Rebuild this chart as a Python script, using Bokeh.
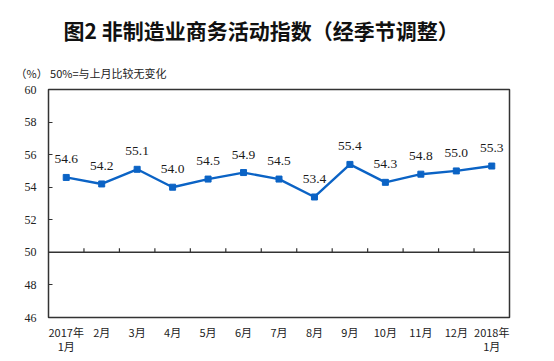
from bokeh.plotting import figure
from bokeh.models import FixedTicker, Title, LabelSet, ColumnDataSource, Span, Range1d
from bokeh.embed import file_html
from bokeh.resources import INLINE

categories = ["2017年\n1月", "2月", "3月", "4月", "5月", "6月", "7月", "8月", "9月", "10月",
              "11月", "12月", "2018年\n1月"]
values = [54.6, 54.2, 55.1, 54.0, 54.5, 54.9, 54.5, 53.4, 55.4, 54.3, 54.8, 55.0, 55.3]
y_ticks = [46, 48, 50, 52, 54, 56, 58, 60]
title_text = "图2  非制造业商务活动指数（经季节调整）"
note_text = "（%）  50%=与上月比较无变化"
baseline = 50

n = len(categories)
xs = [i + 0.5 for i in range(n)]
labels = [f"{v:.1f}" for v in values]

p = figure(frame_width=461, frame_height=228, width=538, height=357,
           x_range=Range1d(0, n), y_range=Range1d(y_ticks[0], y_ticks[-1]),
           output_backend="svg", toolbar_location=None,
           min_border_left=48, min_border_top=89, min_border_right=29, min_border_bottom=40)
p.grid.visible = False
p.outline_line_color = "#333333"
p.outline_line_width = 1.5
p.background_fill_color = "white"
p.border_fill_color = "white"

# titles
note = Title(text=note_text, align="left", offset=-33, standoff=17,
             text_font="Noto Sans CJK SC", text_font_size="11px", text_font_style="normal",
             text_color="#222222")
p.add_layout(note, "above")
p.title.text = title_text
p.title.align = "left"
p.title.offset = 15
p.title.text_font = "Noto Sans CJK SC"
p.title.text_font_size = "21px"
p.title.text_font_style = "bold"
p.title.text_color = "#111111"
p.title.standoff = 20

# y axis
p.yaxis.ticker = FixedTicker(ticks=y_ticks)
p.yaxis.major_tick_in = 4
p.yaxis.major_tick_out = 0
p.yaxis.minor_tick_line_color = None
p.yaxis.axis_line_color = None
p.yaxis.major_tick_line_color = "#333333"
p.yaxis.major_label_text_font = "Liberation Serif"
p.yaxis.major_label_text_font_size = "12px"
p.yaxis.major_label_text_color = "#222222"
p.yaxis.major_label_standoff = 12

# x axis (labels only)
p.xaxis.ticker = FixedTicker(ticks=xs)
p.xaxis.major_label_overrides = {x: c for x, c in zip(xs, categories)}
p.xaxis.major_tick_line_color = None
p.xaxis.minor_tick_line_color = None
p.xaxis.axis_line_color = None
p.xaxis.major_label_text_font = "Noto Sans CJK SC"
p.xaxis.major_label_text_font_size = "11px"
p.xaxis.major_label_text_line_height = 0.9
p.xaxis.major_label_text_color = "#222222"
p.xaxis.major_label_standoff = 0

# baseline at 50 with category boundary ticks
p.add_layout(Span(location=baseline, dimension="width", line_color="#333333", line_width=1.5))
bounds = list(range(1, n))
p.segment(x0=bounds, x1=bounds, y0=[baseline] * len(bounds), y1=[baseline + 0.25] * len(bounds),
          line_color="#333333", line_width=1.2)

color = "#0b63c5"
p.line(xs, values, line_color=color, line_width=2.4)
p.scatter(xs, values, marker="square", size=6, fill_color=color, line_color=color)

src = ColumnDataSource(dict(x=xs, y=values, t=labels))
p.add_layout(LabelSet(x="x", y="y", text="t", source=src, y_offset=14,
                      text_align="center", text_baseline="alphabetic",
                      text_font="Liberation Sans", text_font_size="13.5px", text_color="#1a1a1a"))

open("out.html", "w").write(file_html(p, INLINE))
